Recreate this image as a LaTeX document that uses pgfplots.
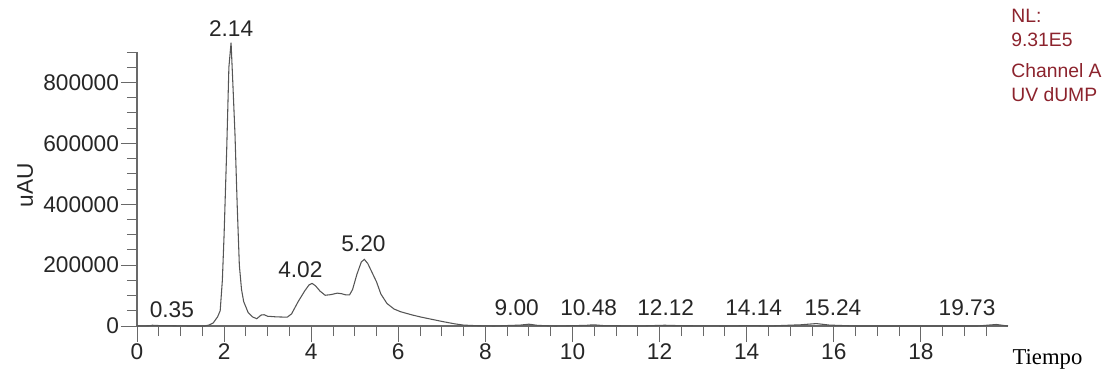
\documentclass[border=0pt]{standalone}
\usepackage{fontspec}
\setmainfont{Liberation Sans}
\newfontfamily\serifont{Liberation Serif}
\usepackage{pgfplots}
\pgfplotsset{compat=1.18}
\definecolor{trace}{RGB}{85,85,85}
\definecolor{axisgray}{RGB}{105,105,105}
\definecolor{nlred}{RGB}{140,35,45}
\begin{document}
\begin{tikzpicture}
\useasboundingbox (-102.75pt,-37.5pt) rectangle (734.25pt,244.5pt);
\begin{axis}[
    at={(0,0)}, anchor=south west,
    scale only axis,
    width=653.25pt, height=205.5pt,
    xmin=0, xmax=20, ymin=0, ymax=900000,
    axis lines=left,
    axis line style={-, axisgray, line width=0.8pt},
    clip=false,
    tick align=outside,
    xtick={0,2,...,18},
    minor xtick={0.5,1,...,19.5},
    ytick={0,200000,...,800000},
    minor ytick={50000,100000,...,900000},
    major tick length=12pt,
    minor tick length=7.5pt,
    tick style={axisgray, line width=0.7pt},
    scaled ticks=false,
    /pgf/number format/.cd, fixed, 1000 sep={}, assume math mode=true,
    /pgfplots/.cd,
    tick label style={font=\fontsize{17}{20}\selectfont, text=black!85},
    yticklabel style={xshift=2pt},
    xticklabel style={yshift=2pt},
]
\addplot[trace, line width=0.8pt] coordinates {
(0,0) (0.3,1000) (0.35,2500) (0.5,1500) (0.8,1000) (1.2,0) (1.55,0)
(1.65,3000) (1.75,10000) (1.85,30000) (1.91,50000) (1.96,150000)
(2.0,300000) (2.06,580000) (2.11,850000) (2.16,931000) (2.2,800000)
(2.25,630000) (2.3,400000) (2.35,200000) (2.4,120000) (2.45,80000)
(2.55,45000) (2.65,30000) (2.75,24000) (2.85,36000) (2.92,37000)
(3.0,32000) (3.2,30000) (3.45,29000) (3.55,40000) (3.7,80000)
(3.85,115000) (3.95,135000) (4.02,140000) (4.1,132000) (4.2,115000)
(4.32,101000) (4.45,103000) (4.6,108000) (4.7,106000) (4.8,102000)
(4.88,102000) (4.95,120000) (5.05,170000) (5.15,210000) (5.22,219000)
(5.3,205000) (5.4,175000) (5.5,145000) (5.6,105000) (5.74,74000)
(5.9,56000) (6.05,47000) (6.3,37000) (6.5,30000) (6.8,21000)
(7.04,14000) (7.3,7000) (7.5,3000) (7.8,1000) (8.2,0) (8.8,3000)
(9.0,6000) (9.2,2000) (9.6,0) (10.3,2000) (10.48,4000) (10.7,1500)
(11.5,0) (12.12,2500) (12.5,1000) (13.5,0) (14.14,1500) (14.5,0)
(15.24,4000) (15.6,8000) (15.9,3000) (16.5,0) (19.3,0) (19.73,5000)
(20.0,0)
};
\begin{scope}[every node/.style={font=\fontsize{17}{20}\selectfont, text=black!85, inner sep=0pt}]
\node at (axis cs:0.8,52000) {0.35};
\node at (axis cs:2.16,976000) {2.14};
\node at (axis cs:3.75,184000) {4.02};
\node at (axis cs:5.2,271000) {5.20};
\node at (axis cs:8.72,59000) {9.00};
\node at (axis cs:10.37,59000) {10.48};
\node at (axis cs:12.14,59000) {12.12};
\node at (axis cs:14.16,59000) {14.14};
\node at (axis cs:15.98,59000) {15.24};
\node at (axis cs:19.06,59000) {19.73};
\end{scope}
\node[rotate=90, font=\fontsize{17}{20}\selectfont, text=black!85] at (axis cs:-2.57,462000) {uAU};
\node[anchor=west, font=\serifont\fontsize{17}{20}\selectfont, inner sep=0pt] at (axis cs:20.1,-110000) {Tiempo};
\node[anchor=north west, align=left, text=nlred, inner sep=0pt,
      font=\fontsize{14.5}{18}\selectfont] at (axis cs:20.07,1040000)
      {NL:\\9.31E5\\[5pt]Channel A\\UV dUMP};
\end{axis}
\end{tikzpicture}
\end{document}
